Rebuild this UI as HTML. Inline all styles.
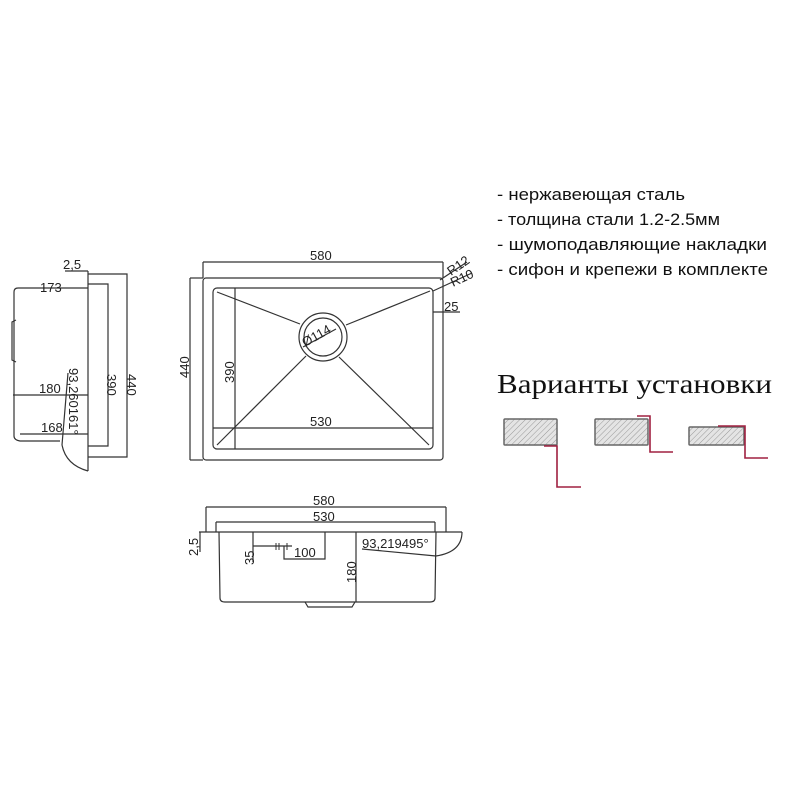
<!DOCTYPE html>
<html><head><meta charset="utf-8"><style>
html,body{margin:0;padding:0;background:#fff;}
svg{display:block;}
.d{font-family:"Liberation Sans",sans-serif;font-size:13px;fill:#222;}
</style></head><body>
<svg width="800" height="800" viewBox="0 0 800 800" xmlns="http://www.w3.org/2000/svg">
<defs>
<pattern id="h" width="4" height="4" patternUnits="userSpaceOnUse" patternTransform="rotate(45)">
<rect width="4" height="4" fill="#e4e4e4"/><line x1="0" y1="0" x2="0" y2="4" stroke="#999" stroke-width="1"/>
</pattern>
</defs>
<g fill="none" stroke="#333" stroke-width="1.2">
<line x1="88" y1="271" x2="88" y2="471"/>
<polyline points="88,274 127,274 127,457 88,457"/>
<polyline points="88,284 108,284 108,446 88,446"/>
<line x1="65" y1="271" x2="88" y2="271"/>
<path d="M88,288 L18,288 Q14,288 14,292 L14,436 Q14,440 20,441 L60,441"/>
<path d="M16,320 L12,322 L12,360 L16,362"/>
<line x1="13" y1="395" x2="88" y2="395"/>
<line x1="20" y1="434" x2="88" y2="434"/>
<path d="M62,445 Q66,465 88,471"/>
<line x1="68" y1="373" x2="62" y2="445"/>
<line x1="203" y1="262" x2="443" y2="262"/>
<line x1="203" y1="262" x2="203" y2="278"/>
<line x1="443" y1="262" x2="443" y2="278"/>
<rect x="203" y="278" width="240" height="182" rx="3"/>
<rect x="213" y="288" width="220" height="161" rx="4"/>
<line x1="190" y1="278" x2="190" y2="460"/>
<line x1="190" y1="278" x2="203" y2="278"/>
<line x1="190" y1="460" x2="203" y2="460"/>
<line x1="235" y1="288" x2="235" y2="449"/>
<line x1="213" y1="428" x2="433" y2="428"/>
<circle cx="323" cy="337" r="24"/>
<circle cx="323" cy="337" r="19"/>
<line x1="303" y1="347" x2="336" y2="329"/>
<line x1="217" y1="292" x2="300" y2="324"/>
<line x1="430" y1="291" x2="346" y2="325"/>
<line x1="217" y1="445" x2="306" y2="356"/>
<line x1="429" y1="445" x2="339" y2="357"/>
<line x1="433" y1="291" x2="472" y2="273"/>
<line x1="440" y1="280" x2="467" y2="262"/>
<line x1="433" y1="312" x2="460" y2="312"/>
<line x1="206" y1="507" x2="446" y2="507"/>
<line x1="206" y1="507" x2="206" y2="532"/>
<line x1="446" y1="507" x2="446" y2="532"/>
<line x1="216" y1="522" x2="435" y2="522"/>
<line x1="216" y1="522" x2="216" y2="532"/>
<line x1="435" y1="522" x2="435" y2="532"/>
<line x1="199" y1="532" x2="462" y2="532"/>
<path d="M219,532 L220,598 Q220,602 225,602 L430,602 Q435,602 435,598 L436,532"/>
<path d="M305,602 L308,607 L352,607 L355,602"/>
<line x1="356" y1="532" x2="356" y2="602"/>
<path d="M462,532 Q462,552 436,556"/>
<line x1="362" y1="549" x2="436" y2="556"/>
<line x1="253" y1="532" x2="253" y2="562"/>
<line x1="253" y1="546" x2="292" y2="546"/>
<polyline points="284,546 284,559 325,559 325,532"/>
<line x1="200" y1="532" x2="200" y2="552"/>
</g>
<g stroke="#333" stroke-width="1"><line x1="276" y1="543" x2="276" y2="550"/><line x1="279" y1="543" x2="279" y2="550"/><line x1="287" y1="543" x2="287" y2="550"/></g>
<text class="d" x="63" y="269">2,5</text>
<text class="d" x="40" y="292">173</text>
<text class="d" x="39" y="393">180</text>
<text class="d" x="41" y="432">168</text>
<text class="d" transform="translate(69,368) rotate(90)">93,260161°</text>
<text class="d" transform="translate(107,374) rotate(90)">390</text>
<text class="d" transform="translate(127,374) rotate(90)">440</text>
<text class="d" transform="translate(189,378) rotate(-90)">440</text>
<text class="d" x="310" y="260">580</text>
<text class="d" transform="translate(451,276) rotate(-35)">R12</text>
<text class="d" transform="translate(453,287) rotate(-25)">R10</text>
<text class="d" x="444" y="311">25</text>
<text class="d" transform="translate(305,347) rotate(-29)">Ø114</text>
<text class="d" transform="translate(234,383) rotate(-90)">390</text>
<text class="d" x="310" y="426">530</text>
<text class="d" x="313" y="505">580</text>
<text class="d" x="313" y="521">530</text>
<text class="d" transform="translate(198,556) rotate(-90)">2,5</text>
<text class="d" transform="translate(254,565) rotate(-90)">35</text>
<text class="d" x="294" y="557">100</text>
<text class="d" transform="translate(356,583) rotate(-90)">180</text>
<text class="d" x="362" y="548">93,219495°</text>
<g font-family="'Liberation Sans','DejaVu Sans',sans-serif" font-size="17" fill="#111">
<text x="497" y="200" textLength="188" lengthAdjust="spacingAndGlyphs">- нержавеющая сталь</text>
<text x="497" y="225" textLength="223" lengthAdjust="spacingAndGlyphs">- толщина стали 1.2-2.5мм</text>
<text x="497" y="250" textLength="270" lengthAdjust="spacingAndGlyphs">- шумоподавляющие накладки</text>
<text x="497" y="275" textLength="271" lengthAdjust="spacingAndGlyphs">- сифон и крепежи в комплекте</text>
</g>
<text x="497" y="393" font-family="'Liberation Serif',serif" font-size="27" fill="#111" textLength="275" lengthAdjust="spacingAndGlyphs">Варианты установки</text>
<g stroke="#666" stroke-width="1.5" fill="url(#h)">
<rect x="504" y="419" width="53" height="26" rx="1"/>
<rect x="595" y="419" width="53" height="26" rx="1"/>
<rect x="689" y="427" width="55" height="18" rx="1"/>
</g>
<g fill="none" stroke="#a02040" stroke-width="1.6">
<polyline points="544,446 557,446 557,487 581,487"/>
<polyline points="637,416 650,416 650,452 673,452"/>
<polyline points="718,426 745,426 745,458 768,458"/>
</g>
</svg>
</body></html>
